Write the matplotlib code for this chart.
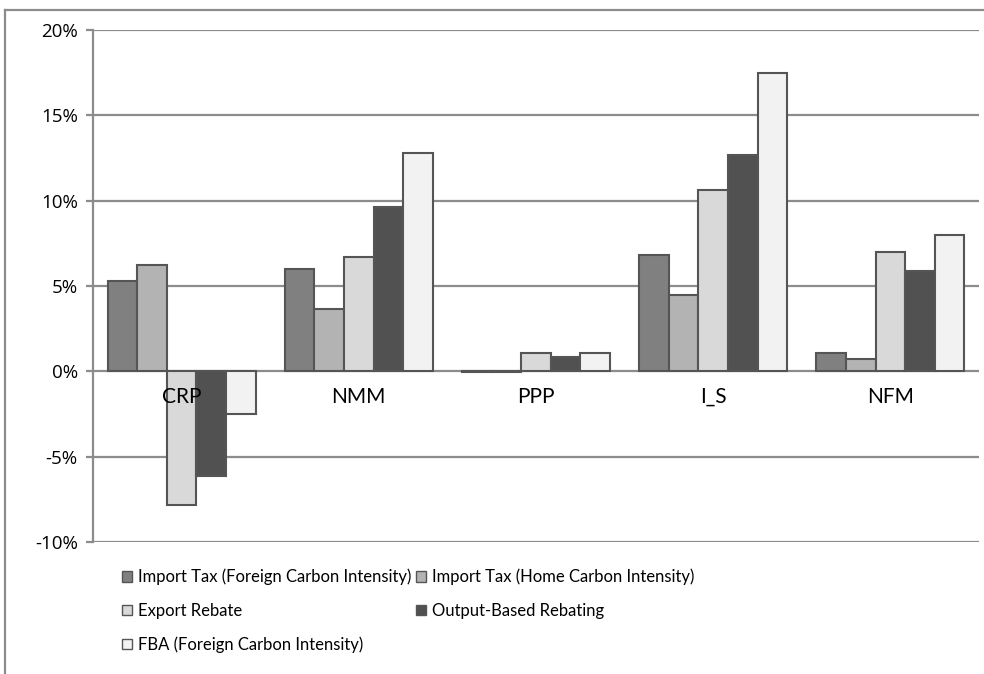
import numpy as np
import matplotlib
matplotlib.use("Agg")
import matplotlib.pyplot as plt
from matplotlib.lines import Line2D
from matplotlib.ticker import FuncFormatter

# ---------- data (percent) ----------
sectors = ["CRP", "NMM", "PPP", "I_S", "NFM"]
import_tax_foreign = [5.3, 6.0, -0.05, 6.8, 1.05]
import_tax_home    = [6.25, 3.65, -0.05, 4.45, 0.7]
export_rebate      = [-7.85, 6.7, 1.1, 10.6, 7.0]
output_based       = [-6.15, 9.6, 0.85, 12.7, 5.9]
fba_foreign        = [-2.5, 12.8, 1.05, 17.5, 8.0]

series = [
    ("Import Tax (Foreign Carbon Intensity)", import_tax_foreign, "#808080"),
    ("Import Tax (Home Carbon Intensity)",    import_tax_home,    "#b3b3b3"),
    ("Export Rebate",                          export_rebate,      "#d9d9d9"),
    ("Output-Based Rebating",                  output_based,       "#515151"),
    ("FBA (Foreign Carbon Intensity)",         fba_foreign,        "#f2f2f2"),
]

plt.rcParams["font.family"] = ["Open Sans", "DejaVu Sans"]
GRID = "#8c8c8c"; EDGE = "#555555"

fig = plt.figure(figsize=(9.84, 6.74), dpi=100)
ax = fig.add_axes([93/984, 1 - 542/674, (979 - 93)/984, (542 - 30)/674])

x = np.arange(len(sectors))
bw = 0.167
handles = []
for k, (name, vals, col) in enumerate(series):
    off = (k - 2) * bw
    b = ax.bar(x + off, vals, width=bw, color=col, edgecolor=EDGE, linewidth=1.5,
               zorder=3, label=name)
    handles.append(b)

ax.set_xlim(-0.5, len(sectors) - 0.5)
ax.set_ylim(-10, 20)
ax.set_yticks(np.arange(-10, 21, 5))
ax.yaxis.set_major_formatter(FuncFormatter(lambda v, p: f"{v:.0f}%"))
ax.set_xticks([])
ax.grid(axis="y", color=GRID, linewidth=1.6, zorder=0)
for s in ["top", "right", "bottom"]:
    ax.spines[s].set_visible(False)
ax.spines["left"].set_color(GRID); ax.spines["left"].set_linewidth(1.6)
ax.tick_params(axis="y", length=5, width=1.6, color=GRID, labelsize=13.5, pad=6)

for i, s in enumerate(sectors):
    ax.text(i, -1.5, s, ha="center", va="center", fontsize=15, zorder=4,
            family=["Lato", "DejaVu Sans"])

# outer chart border (cropped on right/bottom)
fig.add_artist(Line2D([5/984, 5/984], [0, 1 - 10/674], color=GRID, lw=1.6))
fig.add_artist(Line2D([5/984, 1], [1 - 10/674, 1 - 10/674], color=GRID, lw=1.6))

# legend row-major order in 2 columns
order = [0, 2, 4, 1, 3]
leg = fig.legend([handles[i] for i in order], [series[i][0] for i in order],
                 loc="upper left", bbox_to_anchor=(115/984, 1 - 562/674), ncol=2,
                 frameon=False, handlelength=0.6, handleheight=0.6, handletextpad=0.35,
                 columnspacing=0.3, labelspacing=1.05, borderaxespad=0,
                 prop={"family": ["Lato", "DejaVu Sans"], "size": 12})
for h in leg.legend_handles:
    h.set_linewidth(1.0)

fig.savefig("out.png", dpi=100)
